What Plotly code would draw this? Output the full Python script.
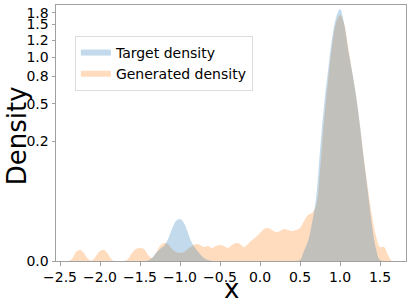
import numpy as np
import plotly.graph_objects as go

# Generated density (KDE)
gen_x = [-2.55, -2.4, -2.35, -2.3, -2.25, -2.2, -2.15, -2.1, -2.05, -2.0, -1.95, -1.9, -1.85, -1.8,
         -1.7, -1.65, -1.6, -1.55, -1.5, -1.45, -1.4, -1.35, -1.3, -1.25, -1.2, -1.15, -1.1, -1.05,
         -1.0, -0.95, -0.9, -0.85, -0.8, -0.75, -0.7, -0.65, -0.6, -0.55, -0.5, -0.45, -0.4, -0.35,
         -0.3, -0.25, -0.2, -0.15, -0.1, -0.05, 0.0, 0.05, 0.1, 0.15, 0.2, 0.25, 0.3, 0.35, 0.4,
         0.45, 0.5, 0.55, 0.6, 0.65, 0.7, 0.75, 0.8, 0.85, 0.9, 0.95, 1.0, 1.05, 1.1, 1.15, 1.2,
         1.25, 1.3, 1.35, 1.4, 1.45, 1.5, 1.55, 1.6, 1.65, 1.8]
gen_d = [0, 0, 9.4e-7, 8.6e-5, 1.57e-4, 6.0e-5, 9.4e-7, 1.5e-8, 1.47e-5, 1.18e-4, 1.57e-4, 4.0e-5, 1.2e-7, 0,
         0, 9.4e-7, 6.0e-5, 2.03e-4, 2.59e-4, 2.03e-4, 2.5e-5, 3.2e-6, 6.0e-5, 3.97e-4, 6.87e-4, 5.79e-4, 2.03e-4, 8.6e-5,
         6.0e-5, 8.6e-5, 2.03e-4, 3.97e-4, 5.79e-4, 4.82e-4, 3.23e-4, 3.97e-4, 2.59e-4, 3.97e-4, 4.82e-4, 3.97e-4, 2.59e-4, 4.82e-4,
         6.87e-4, 5.79e-4, 3.23e-4, 5.79e-4, 1.09e-3, 1.63e-3, 2.59e-3, 3.86e-3, 4.23e-3, 3.51e-3, 2.87e-3, 3.18e-3, 3.86e-3, 3.51e-3, 3.18e-3,
         3.51e-3, 4.23e-3, 7.54e-3, 0.0115, 0.0130, 0.0196, 0.0859, 0.323, 0.687, 1.171, 1.588, 1.754, 1.588, 1.171, 0.808, 0.529,
         0.290, 0.125, 0.044, 0.0107, 1.84e-3, 3.23e-4, 3.23e-4, 2.5e-5, 0, 0]

# Target density
tgt_x = [-1.5, -1.45, -1.4, -1.35, -1.3, -1.25, -1.2, -1.15, -1.1, -1.05, -1.0, -0.95, -0.9, -0.85,
         -0.8, -0.75, -0.7, -0.65, -0.6, 0.45, 0.5, 0.55, 0.6, 0.65, 0.7, 0.75, 0.8, 0.85, 0.9, 0.95,
         1.0, 1.05, 1.1, 1.15, 1.2, 1.25, 1.3, 1.35, 1.4, 1.45, 1.5, 1.55]
tgt_d = [0, 0, 1.5e-8, 3.2e-6, 6.0e-5, 2.03e-4, 3.97e-4, 1.25e-3, 3.86e-3, 7.54e-3, 8.73e-3, 6.46e-3, 2.59e-3, 6.87e-4,
         2.03e-4, 4.0e-5, 3.2e-6, 1.2e-7, 0, 0, 1.2e-7, 1.18e-4, 9.4e-4, 6.46e-3, 0.0281, 0.157, 0.439, 0.808, 1.289, 1.690,
         1.885, 1.588, 1.122, 0.808, 0.539, 0.290, 0.118, 0.037, 5.05e-3, 2.03e-4, 1.2e-7, 0]

x_ticks = [-2.5, -2.0, -1.5, -1.0, -0.5, 0.0, 0.5, 1.0, 1.5]
# y tick labels and where they sit on the (cube-root style) density scale
y_tick_labels = ["0.0", "0.2", "0.5", "0.8", "1.0", "1.2", "1.5", "1.8"]
y_tick_at = [0.0, 0.203, 0.456, 0.746, 1.0, 1.271, 1.568, 1.8]

def fwd(v):
    return np.cbrt(np.asarray(v, dtype=float))

def lab(v):
    s = f"{v:.1f}"
    return s.replace("-", "\u2212")

fig = go.Figure()
fig.add_trace(go.Scatter(x=gen_x, y=fwd(gen_d), mode="none", line_shape="spline",
                         fill="tozeroy", fillcolor="rgba(255,127,14,0.27)",
                         name="Generated density"))
fig.add_trace(go.Scatter(x=tgt_x, y=fwd(tgt_d), mode="none", line_shape="spline",
                         fill="tozeroy", fillcolor="rgba(31,119,180,0.27)",
                         name="Target density"))

axis_common = dict(showline=True, linecolor="#a0a0a0", linewidth=1, mirror=True,
                   ticks="outside", ticklen=3.5, tickcolor="#a0a0a0", showgrid=False,
                   zeroline=False, automargin=False,
                   tickfont=dict(family="DejaVu Sans", size=14, color="black"))

fig.update_layout(
    width=411, height=308,
    margin=dict(l=56, r=5, t=5, b=47),
    paper_bgcolor="white", plot_bgcolor="white",
    showlegend=True,
    legend=dict(x=0.054, y=0.879, xanchor="left", yanchor="top", traceorder="reversed",
                bgcolor="rgba(255,255,255,0.8)", bordercolor="#dddddd", borderwidth=1,
                font=dict(family="DejaVu Sans", size=14, color="black"),
                tracegroupgap=0),
    xaxis=dict(range=[-2.55, 1.825], tickvals=x_ticks, ticktext=[lab(v) for v in x_ticks],
               **axis_common),
    yaxis=dict(range=[0, 1.255], tickvals=list(fwd(y_tick_at)), ticktext=y_tick_labels,
               **axis_common),
    annotations=[
        dict(text="x", xref="paper", yref="paper", x=0.5, y=-0.11, xanchor="center", yanchor="middle",
             showarrow=False, font=dict(family="DejaVu Sans", size=26, color="black")),
        dict(text="Density", xref="paper", yref="paper", x=-0.111, y=0.488, xanchor="center", yanchor="middle",
             textangle=-90, showarrow=False, font=dict(family="DejaVu Sans", size=26, color="black")),
    ],
)

fig.write_html("out.html", config={"displayModeBar": False},
               post_script="document.body.style.margin='0';")
